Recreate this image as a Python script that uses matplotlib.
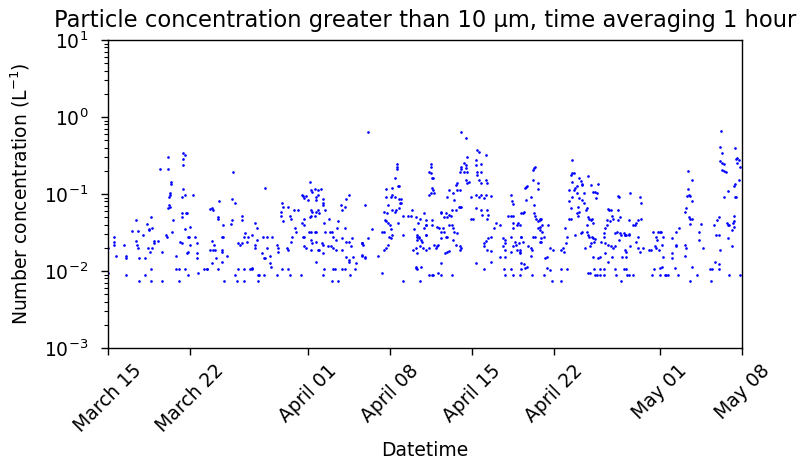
import datetime
import matplotlib
matplotlib.use("Agg")
import matplotlib.pyplot as plt
import matplotlib.dates as mdates

# Lecturas (dia desde 15 de marzo, concentracion en L^-1), por tramos
start = datetime.datetime(2019, 3, 15)

seg_mar15 = [
    (0.04, 0.0094), (0.47, 0.0276), (0.47, 0.024), (0.47, 0.022), (0.02, 0.020),
    (0.64, 0.0157), (1.40, 0.022), (1.57, 0.0157), (1.57, 0.0148), (1.57, 0.0089),
    (2.08, 0.033), (2.42, 0.046), (2.42, 0.0245), (2.50, 0.022), (2.58, 0.020),
    (2.67, 0.0148), (2.67, 0.0074), (2.58, 0.033), (3.01, 0.029), (3.18, 0.0148),
    (3.18, 0.0089), (3.35, 0.041), (3.52, 0.034), (3.52, 0.035), (3.69, 0.050),
    (3.77, 0.036), (3.43, 0.020), (3.60, 0.0177), (3.77, 0.020), (3.94, 0.0245),
    (3.94, 0.023), (3.69, 0.0106), (3.69, 0.0074), (4.28, 0.0245), (4.62, 0.0177),
    (4.62, 0.0074), (4.45, 0.21), (4.96, 0.029), (5.04, 0.0276), (5.13, 0.30),
    (5.13, 0.21), (5.38, 0.135), (5.38, 0.143), (5.30, 0.103), (5.21, 0.091),
    (5.30, 0.097), (5.21, 0.072), (5.30, 0.068), (5.13, 0.066), (5.55, 0.046),
    (5.47, 0.032), (5.81, 0.0157), (5.81, 0.0106), (6.06, 0.0106), (6.06, 0.0074),
    (6.14, 0.024), (6.31, 0.023), (6.40, 0.34), (6.57, 0.32), (6.40, 0.285),
    (6.40, 0.24), (6.40, 0.116), (6.57, 0.097), (6.31, 0.091), (6.31, 0.057),
    (6.31, 0.050), (6.65, 0.057), (6.70, 0.057), (6.57, 0.035), (6.82, 0.0276),
    (6.90, 0.0276), (7.00, 0.037), (6.82, 0.0177), (6.75, 0.017), (7.00, 0.022),
    (6.57, 0.0106), (6.82, 0.0089), (7.25, 0.097), (7.42, 0.0276), (7.58, 0.023),
    (7.58, 0.017), (7.58, 0.0148), (7.67, 0.0094), (8.18, 0.0106), (8.43, 0.0106),
    (8.69, 0.064), (8.69, 0.0187),
]

seg_mar24 = [
    (10.64, 0.193), (13.35, 0.12), (9.45, 0.081), (10.55, 0.086), (10.80, 0.076),
    (8.86, 0.066), (8.94, 0.062), (9.36, 0.050), (9.40, 0.048), (10.55, 0.046),
    (11.40, 0.052), (11.45, 0.046), (9.79, 0.039), (10.47, 0.041), (12.50, 0.042),
    (12.67, 0.036), (9.70, 0.0276), (9.76, 0.0276), (8.86, 0.0245), (9.03, 0.022),
    (8.90, 0.0187), (9.11, 0.0187), (9.70, 0.0187), (9.72, 0.0177), (10.13, 0.0157),
    (9.20, 0.0148), (9.70, 0.0131), (8.86, 0.0127), (8.43, 0.0106), (9.36, 0.0106),
    (9.87, 0.0074), (11.06, 0.023), (11.23, 0.022), (11.40, 0.023), (11.82, 0.024),
    (11.70, 0.031), (11.56, 0.0276), (11.90, 0.0276), (12.30, 0.029), (12.67, 0.025),
    (13.18, 0.0276), (13.50, 0.0276), (14.00, 0.0276), (12.50, 0.022), (12.50, 0.020),
    (13.10, 0.017), (13.50, 0.020), (13.30, 0.0148), (13.40, 0.0148), (13.80, 0.0157),
    (13.80, 0.0127), (14.40, 0.022), (14.45, 0.0177), (14.50, 0.020), (11.06, 0.0106),
    (11.56, 0.0106), (12.10, 0.0106), (12.25, 0.011), (12.30, 0.0106), (10.80, 0.0089),
    (12.75, 0.0089), (12.90, 0.0089), (13.26, 0.0089), (14.36, 0.0089), (10.97, 0.0074),
    (11.56, 0.0074), (12.75, 0.0074), (13.90, 0.0112), (14.80, 0.0106), (15.30, 0.0106),
    (15.50, 0.0089), (16.40, 0.0089), (14.80, 0.076), (14.90, 0.068), (14.70, 0.058),
    (14.75, 0.052), (14.90, 0.044), (15.30, 0.068), (15.50, 0.052), (15.60, 0.047),
    (15.80, 0.062), (15.90, 0.036), (16.00, 0.032), (15.70, 0.0276), (15.55, 0.024),
    (15.30, 0.0187), (15.20, 0.020), (16.20, 0.062), (16.50, 0.097), (16.60, 0.094),
    (16.90, 0.094), (16.70, 0.090), (17.20, 0.143), (17.30, 0.113), (17.00, 0.083),
    (17.25, 0.062), (17.40, 0.058), (16.70, 0.048), (17.20, 0.050), (17.30, 0.052),
    (16.50, 0.042), (16.70, 0.040), (16.60, 0.028), (16.70, 0.0276), (17.10, 0.032),
    (17.30, 0.032), (16.70, 0.021), (16.90, 0.020), (17.40, 0.023), (17.30, 0.0187),
]

seg_apr02 = [
    (22.10, 0.64), (24.60, 0.245), (24.62, 0.225), (24.60, 0.21), (24.45, 0.16),
    (24.70, 0.127), (24.75, 0.127), (23.70, 0.116), (24.20, 0.12), (23.70, 0.091),
    (24.10, 0.091), (24.20, 0.097), (24.45, 0.091), (24.80, 0.086), (24.95, 0.086),
    (24.90, 0.076), (24.95, 0.076), (23.85, 0.072), (24.50, 0.062), (24.45, 0.058),
    (24.20, 0.062), (23.80, 0.057), (24.80, 0.066), (24.70, 0.042), (25.10, 0.052),
    (25.55, 0.052), (25.90, 0.062), (25.80, 0.052), (23.50, 0.058), (23.60, 0.046),
    (23.70, 0.044), (23.85, 0.042), (24.00, 0.040), (24.10, 0.035), (23.35, 0.032),
    (23.50, 0.032), (23.90, 0.028), (24.20, 0.029), (25.10, 0.029), (24.10, 0.027),
    (23.85, 0.022), (23.70, 0.020), (23.50, 0.0187), (23.00, 0.0157), (23.35, 0.0094),
    (25.10, 0.0074), (22.50, 0.035), (21.90, 0.072), (22.10, 0.027), (21.65, 0.023),
    (21.75, 0.022), (21.65, 0.0161), (21.90, 0.0152), (26.10, 0.035), (26.40, 0.042),
    (26.35, 0.028), (26.20, 0.020), (26.20, 0.011), (26.00, 0.019), (17.40, 0.106),
    (17.60, 0.116), (17.75, 0.091), (17.75, 0.083), (17.90, 0.113), (18.10, 0.116),
    (17.85, 0.097), (18.30, 0.086), (18.35, 0.072), (18.50, 0.062), (18.30, 0.076),
    (17.60, 0.052), (17.75, 0.058), (17.85, 0.062), (18.00, 0.056), (18.40, 0.042),
    (18.80, 0.048), (18.50, 0.032), (18.90, 0.032), (19.10, 0.032), (19.20, 0.0276),
    (17.60, 0.032), (17.70, 0.032), (17.30, 0.025), (17.75, 0.024), (17.85, 0.019),
    (18.20, 0.023), (18.30, 0.022), (18.00, 0.0187), (18.30, 0.017), (17.70, 0.0131),
    (18.40, 0.0106), (18.35, 0.0089), (19.20, 0.0106), (19.10, 0.0074), (19.60, 0.0074),
    (18.70, 0.021), (19.00, 0.021), (19.20, 0.020), (19.45, 0.019), (19.50, 0.036),
    (19.45, 0.025), (19.90, 0.027), (19.95, 0.0187), (19.60, 0.044), (19.80, 0.072),
    (19.95, 0.062), (20.20, 0.068), (20.30, 0.086), (20.50, 0.097), (20.20, 0.036),
    (20.30, 0.024), (20.50, 0.024), (20.80, 0.027), (20.70, 0.021), (20.30, 0.0152),
    (20.50, 0.014), (20.55, 0.0131), (20.90, 0.015), (21.10, 0.0127), (21.60, 0.023),
    (21.65, 0.023), (19.95, 0.0106), (20.20, 0.0106), (20.60, 0.0089), (21.05, 0.0106),
    (19.30, 0.0106), (21.60, 0.0157), (21.90, 0.0148),
]

seg_apr10 = [
    (30.10, 0.64), (30.50, 0.53), (27.50, 0.245), (27.52, 0.225), (27.30, 0.193),
    (27.50, 0.187), (27.60, 0.16), (27.70, 0.16), (27.60, 0.12), (27.70, 0.113),
    (27.50, 0.103), (27.30, 0.097), (27.75, 0.103), (30.55, 0.30), (30.30, 0.25),
    (30.45, 0.24), (30.10, 0.225), (30.30, 0.193), (30.55, 0.193), (30.00, 0.193),
    (30.10, 0.21), (30.45, 0.22), (31.40, 0.37), (31.60, 0.35), (32.20, 0.32),
    (31.30, 0.28), (31.80, 0.245), (31.30, 0.24), (31.40, 0.193), (31.40, 0.177),
    (31.80, 0.193), (30.45, 0.152), (30.70, 0.143), (30.55, 0.14), (29.70, 0.14),
    (29.60, 0.13), (30.00, 0.113), (29.70, 0.113), (29.40, 0.103), (29.00, 0.113),
    (31.60, 0.152), (31.80, 0.14), (32.20, 0.152), (32.25, 0.14), (30.90, 0.091),
    (31.30, 0.097), (31.60, 0.091), (31.80, 0.097), (32.20, 0.097), (32.60, 0.094),
    (32.00, 0.088), (29.50, 0.083), (28.90, 0.091), (30.10, 0.068), (30.00, 0.068),
    (29.85, 0.068), (29.60, 0.062), (29.30, 0.062), (28.40, 0.058), (28.35, 0.057),
    (28.75, 0.057), (28.85, 0.050), (29.00, 0.054), (29.20, 0.052), (28.60, 0.050),
    (30.90, 0.048), (31.05, 0.047), (31.30, 0.066), (31.80, 0.062), (32.30, 0.062),
    (32.40, 0.054), (31.85, 0.054), (32.30, 0.047), (26.20, 0.050), (26.55, 0.048),
    (26.95, 0.057), (27.10, 0.046), (27.10, 0.040), (27.05, 0.039), (26.90, 0.036),
    (27.55, 0.046), (27.60, 0.040), (28.05, 0.037), (28.20, 0.036), (28.40, 0.032),
    (28.50, 0.036), (29.30, 0.040), (29.00, 0.040), (29.35, 0.036), (26.30, 0.029),
    (26.50, 0.0276), (26.65, 0.025), (26.70, 0.024), (26.30, 0.025), (27.05, 0.029),
    (27.10, 0.029), (26.50, 0.027), (27.75, 0.022), (28.00, 0.021), (27.90, 0.020),
    (28.10, 0.022), (28.35, 0.027), (28.75, 0.0276), (28.65, 0.032), (28.85, 0.028),
    (29.45, 0.032), (29.70, 0.031), (29.35, 0.025), (29.60, 0.022), (30.00, 0.021),
    (30.10, 0.020), (29.95, 0.019), (27.30, 0.020), (28.85, 0.0177), (28.70, 0.017),
    (29.00, 0.018), (26.60, 0.021), (26.80, 0.020), (27.05, 0.0187), (26.30, 0.017),
    (26.20, 0.0112), (26.30, 0.0106), (26.65, 0.0112), (26.55, 0.0074), (27.30, 0.0089),
    (27.55, 0.0089), (27.70, 0.0089), (28.10, 0.0094), (28.35, 0.0089), (29.30, 0.0089),
    (28.35, 0.0127), (31.30, 0.0127), (32.00, 0.0106), (32.60, 0.0131), (32.30, 0.0187),
    (32.65, 0.018), (33.00, 0.042), (32.85, 0.036), (33.40, 0.039), (32.00, 0.021),
    (32.20, 0.0245), (32.40, 0.027), (32.60, 0.0276), (32.05, 0.023), (34.30, 0.097),
    (34.40, 0.081), (34.50, 0.074), (34.10, 0.052), (34.30, 0.052), (34.45, 0.052),
    (34.48, 0.042), (34.50, 0.036), (34.80, 0.040), (34.95, 0.042), (35.20, 0.057),
    (33.60, 0.027), (33.85, 0.025), (34.30, 0.0276), (34.70, 0.024), (34.72, 0.022),
    (33.85, 0.023), (33.60, 0.021), (33.80, 0.019), (33.40, 0.0152), (33.85, 0.0152),
    (34.30, 0.0177), (34.50, 0.021), (34.80, 0.0187), (35.10, 0.0177), (35.00, 0.023),
    (35.20, 0.0276), (33.70, 0.0106), (34.30, 0.0106), (33.85, 0.0089), (34.50, 0.0089),
    (35.20, 0.0106), (35.10, 0.0089),
]

seg_apr19 = [
    (36.30, 0.218), (36.20, 0.205), (36.40, 0.225), (35.60, 0.123), (35.70, 0.127),
    (35.50, 0.12), (36.20, 0.152), (36.60, 0.14), (36.62, 0.116), (36.00, 0.091),
    (35.60, 0.083), (35.30, 0.057), (35.40, 0.058), (36.30, 0.072), (36.32, 0.057),
    (36.40, 0.052), (36.42, 0.047), (36.75, 0.046), (36.60, 0.044), (36.80, 0.048),
    (36.90, 0.047), (36.95, 0.040), (36.75, 0.037), (36.65, 0.036), (36.80, 0.034),
    (36.95, 0.032), (37.50, 0.040), (37.10, 0.0276), (36.90, 0.027), (36.20, 0.0276),
    (36.40, 0.0276), (36.75, 0.024), (36.90, 0.024), (35.10, 0.040), (35.20, 0.0276),
    (35.30, 0.024), (35.80, 0.021), (36.00, 0.020), (36.10, 0.0187), (35.10, 0.017),
    (35.05, 0.0187), (36.00, 0.0157), (35.20, 0.0127), (35.40, 0.0124), (35.70, 0.0112),
    (35.55, 0.011), (36.10, 0.0089), (37.25, 0.0148), (37.35, 0.0152), (37.40, 0.011),
    (37.60, 0.0104), (37.60, 0.020), (37.90, 0.0187), (37.10, 0.0089), (37.80, 0.0074),
    (38.60, 0.0074), (38.60, 0.0106), (39.10, 0.0106), (38.60, 0.0187), (38.75, 0.020),
    (38.85, 0.0177), (39.00, 0.023), (39.10, 0.0276), (38.90, 0.036), (39.30, 0.048),
    (39.40, 0.048), (39.40, 0.066), (39.55, 0.091), (39.70, 0.113), (39.55, 0.143),
    (39.30, 0.113), (39.25, 0.081), (39.40, 0.177), (39.50, 0.187), (39.70, 0.187),
    (39.55, 0.28), (39.90, 0.127), (40.10, 0.16), (39.80, 0.12), (39.90, 0.103),
    (40.10, 0.088), (40.00, 0.068), (39.90, 0.057), (40.00, 0.052), (40.10, 0.058),
    (39.80, 0.029), (40.25, 0.031), (40.35, 0.032), (40.35, 0.083), (40.50, 0.076),
    (40.50, 0.103), (40.35, 0.135), (40.38, 0.13), (40.25, 0.148), (40.70, 0.062),
    (40.80, 0.066), (40.90, 0.050), (40.92, 0.048), (41.10, 0.046), (41.20, 0.048),
    (41.30, 0.042), (40.80, 0.039), (40.82, 0.032), (40.85, 0.029), (41.00, 0.0276),
    (41.20, 0.028), (41.30, 0.027), (41.35, 0.024), (41.50, 0.026), (40.90, 0.172),
    (41.15, 0.13), (41.30, 0.106), (41.50, 0.106), (41.65, 0.103), (41.70, 0.135),
    (41.60, 0.088), (40.60, 0.020), (41.15, 0.023), (41.05, 0.021), (41.30, 0.0152),
    (41.70, 0.0148), (41.40, 0.0106), (41.90, 0.0106), (42.25, 0.0106), (41.65, 0.0089),
    (41.90, 0.0089), (40.90, 0.0094), (41.05, 0.0094), (41.50, 0.0089), (42.25, 0.0089),
    (42.20, 0.0276), (42.25, 0.031), (42.00, 0.024), (42.30, 0.036), (42.50, 0.046),
    (42.70, 0.062), (42.85, 0.062), (42.60, 0.064), (42.50, 0.040), (42.75, 0.044),
    (42.90, 0.052), (43.00, 0.048), (42.30, 0.023), (42.60, 0.022), (42.85, 0.021),
    (41.90, 0.0152), (42.30, 0.017), (42.60, 0.0131), (43.00, 0.020), (43.20, 0.021),
    (42.90, 0.0152), (43.20, 0.0106), (43.30, 0.0089), (43.45, 0.094), (43.55, 0.091),
    (43.45, 0.062), (43.60, 0.050), (43.45, 0.046), (43.60, 0.031), (43.70, 0.029),
    (43.50, 0.025), (43.95, 0.031), (44.00, 0.029), (44.10, 0.029), (44.00, 0.0187),
    (43.80, 0.0152), (44.10, 0.0152), (43.95, 0.0106), (43.70, 0.0074), (44.20, 0.0089),
    (43.35, 0.032), (43.20, 0.031),
]

seg_apr28 = [
    (52.20, 0.66), (52.15, 0.41), (52.30, 0.34), (52.15, 0.27), (52.30, 0.25),
    (52.50, 0.245), (52.25, 0.205), (52.50, 0.20), (52.60, 0.193), (53.40, 0.39),
    (53.60, 0.29), (53.50, 0.285), (53.70, 0.28), (53.60, 0.25), (53.80, 0.225),
    (53.70, 0.152), (53.40, 0.135), (53.30, 0.127), (53.40, 0.091), (52.80, 0.11),
    (52.50, 0.091), (53.30, 0.052), (53.20, 0.042), (53.35, 0.044), (52.90, 0.039),
    (52.80, 0.040), (52.70, 0.042), (53.10, 0.034), (53.30, 0.037), (52.80, 0.027),
    (53.10, 0.021), (52.10, 0.0187), (51.60, 0.040), (52.00, 0.050), (51.90, 0.046),
    (51.80, 0.029), (52.00, 0.029), (51.70, 0.0131), (52.05, 0.0124), (52.05, 0.0106),
    (51.45, 0.0106), (51.35, 0.0074), (52.90, 0.0089), (53.85, 0.0089), (53.45, 0.091),
    (49.40, 0.20), (49.70, 0.152), (49.40, 0.116), (49.30, 0.094), (49.50, 0.097),
    (49.60, 0.094), (49.70, 0.081), (49.20, 0.066), (49.10, 0.058), (49.50, 0.050),
    (49.60, 0.048), (49.70, 0.048), (49.60, 0.041), (49.10, 0.022), (49.20, 0.020),
    (49.10, 0.0157), (49.70, 0.0112), (49.60, 0.0074), (50.50, 0.041), (50.35, 0.032),
    (50.35, 0.025), (50.70, 0.020), (50.20, 0.0089), (51.30, 0.0106), (48.60, 0.036),
    (48.35, 0.032), (48.00, 0.027), (48.35, 0.022), (48.40, 0.021), (48.00, 0.017),
    (48.00, 0.0148), (48.25, 0.011), (48.50, 0.0089), (47.70, 0.0089), (47.40, 0.0089),
    (47.50, 0.0089), (47.15, 0.0112), (47.00, 0.011), (47.25, 0.0276), (47.10, 0.032),
    (47.00, 0.032), (46.80, 0.032), (46.65, 0.0276), (46.75, 0.025), (46.55, 0.021),
    (46.65, 0.020), (46.90, 0.0187), (47.15, 0.022), (46.40, 0.032), (46.25, 0.0187),
    (46.10, 0.0187), (47.25, 0.0152), (47.00, 0.0089), (46.30, 0.0089), (46.50, 0.0106),
    (45.00, 0.042), (44.90, 0.040), (44.75, 0.039), (45.15, 0.046), (45.40, 0.047),
    (44.45, 0.103), (45.30, 0.091), (45.40, 0.076), (44.35, 0.046), (45.10, 0.028),
    (45.00, 0.024), (45.15, 0.020), (45.30, 0.0177), (45.55, 0.020), (44.45, 0.021),
    (44.10, 0.0177), (44.00, 0.029), (44.35, 0.029), (44.40, 0.030), (44.70, 0.0089),
    (44.35, 0.0089), (44.10, 0.0106),
]

segments = [seg_mar15, seg_mar24, seg_apr02, seg_apr10, seg_apr19, seg_apr28]

fig = plt.figure(figsize=(8.02, 4.70), dpi=100)
ax = fig.add_axes([0.1347, 0.2596, 0.7906, 0.6553])

t0 = mdates.date2num(start)
for seg in segments:
    days = [p[0] for p in seg]
    conc = [p[1] for p in seg]
    ax.plot([t0 + d for d in days], conc, '.', color='blue', markersize=1.8)

ax.set_yscale('log')
ax.set_ylim(1e-3, 1e1)
ax.set_xlim(start, datetime.datetime(2019, 5, 8))
ax.xaxis.set_major_locator(mdates.DayLocator(bymonthday=[1, 8, 15, 22]))
ax.xaxis.set_major_formatter(mdates.DateFormatter('%B %d'))
plt.setp(ax.get_xticklabels(), rotation=45)

ax.tick_params(labelsize=13.5, width=1.0, length=4.7, pad=4.5)
ax.tick_params(axis='y', which='major', pad=9.5)
ax.tick_params(which='minor', width=0.8, length=2.7)
for s in ax.spines.values():
    s.set_linewidth(1.0)

ax.set_title('Particle concentration greater than 10 µm, time averaging 1 hour', fontsize=16.3, pad=9)
ax.set_ylabel('Number concentration (L$^{-1}$)', fontsize=13.5, labelpad=9)
ax.set_xlabel('Datetime', fontsize=13.5)

fig.savefig('out.png', dpi=100)
